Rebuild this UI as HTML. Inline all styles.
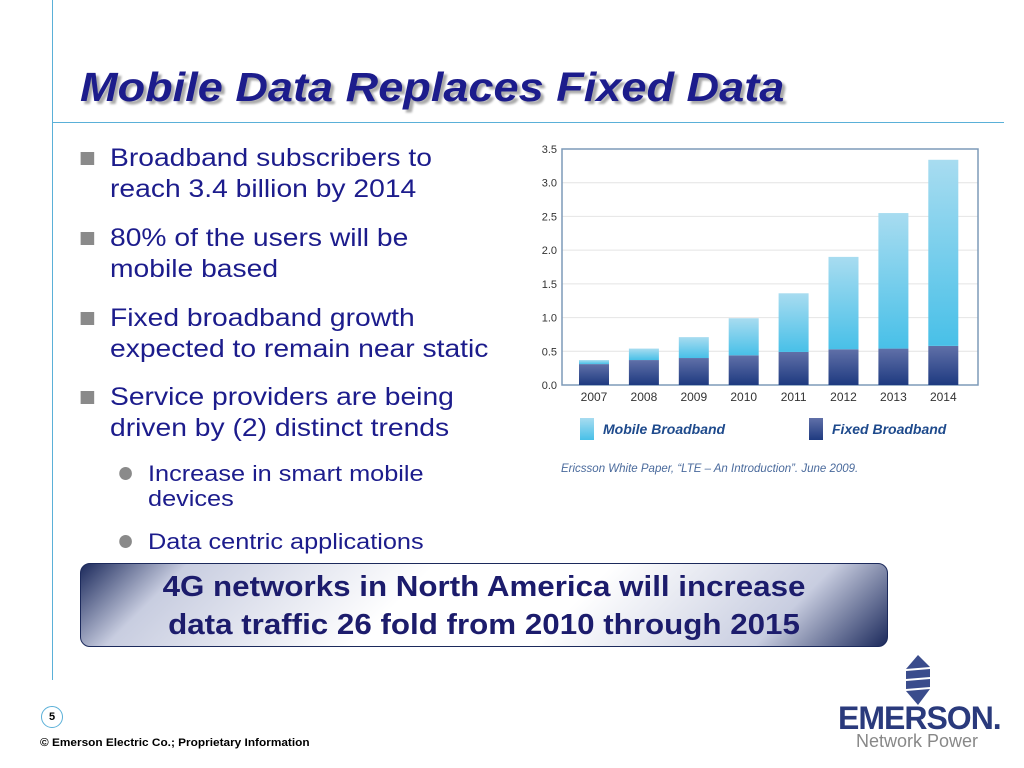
<!DOCTYPE html>
<html><head><meta charset="utf-8"><style>
body{margin:0;width:1024px;height:768px;background:#fff;position:relative;overflow:hidden;font-family:"Liberation Sans",sans-serif}
.a{position:absolute}
.b{font-size:25px;color:#1c1c8c;line-height:31px;transform:scaleX(1.13);transform-origin:0 0;white-space:nowrap}
.sq{position:absolute;left:-26px;top:9px;width:12px;height:13px;background:#8a8a8a}
.s{font-size:22px;color:#1c1c8c;line-height:25px;transform:scaleX(1.15);transform-origin:0 0;white-space:nowrap}
.dot{position:absolute;left:-25px;top:6px;width:11px;height:13px;border-radius:50%;background:#8a8a8a}
</style></head><body>
<div class="a" style="left:52px;top:0;width:1px;height:680px;background:#5ab0d8"></div>
<div class="a" style="left:52px;top:122px;width:952px;height:1px;background:#5ab0d8"></div>
<div class="a" style="left:80px;top:64px;font-size:41px;font-weight:bold;font-style:italic;color:#1c1c8c;text-shadow:3px 3px 2px #aaa;transform:scaleX(1.1);transform-origin:0 0;white-space:nowrap">Mobile Data Replaces Fixed Data</div>
<div class="a b" style="left:110px;top:143px"><span class="sq"></span>Broadband subscribers to<br>reach 3.4 billion by 2014</div>
<div class="a b" style="left:110px;top:223px"><span class="sq"></span>80% of the users will be<br>mobile based</div>
<div class="a b" style="left:110px;top:303px"><span class="sq"></span>Fixed broadband growth<br>expected to remain near static</div>
<div class="a b" style="left:110px;top:382px"><span class="sq"></span>Service providers are being<br>driven by (2) distinct trends</div>
<div class="a s" style="left:148px;top:461px"><span class="dot"></span>Increase in smart mobile<br>devices</div>
<div class="a s" style="left:148px;top:529px"><span class="dot"></span>Data centric applications</div>
<div class="a" style="left:80px;top:563px;width:808px;height:84px;border:1px solid #1c2a5c;border-radius:10px;background:linear-gradient(135deg,#1c2a5c 0%,#c8cde0 12%,#fff 40%,#fff 60%,#c8cde0 85%,#1c2a5c 100%);box-sizing:border-box"></div>
<div class="a" style="left:80px;top:568px;width:808px;text-align:center;font-size:29px;font-weight:bold;color:#1c1c6c;line-height:38px;transform:scaleX(1.08);transform-origin:404px 0">4G networks in North America will increase<br>data traffic 26 fold from 2010 through 2015</div>
<div class="a" style="left:41px;top:706px;width:20px;height:20px;border:1px solid #5ab0d8;border-radius:50%;font-size:11px;font-weight:bold;text-align:center;line-height:20px">5</div>
<div class="a" style="left:40px;top:737px;font-size:11px;font-weight:bold;transform:scaleX(1.075);transform-origin:0 0;white-space:nowrap">© Emerson Electric Co.; Proprietary Information</div>
<svg class="a" style="left:900px;top:655px" width="36" height="50"><g fill="#3a4c8c"><polygon points="18,0 30,12 6,14"/><polygon points="6,16 30,14 30,22 6,24"/><polygon points="6,26 30,24 30,32 6,34"/><polygon points="6,36 30,34 18,50"/></g></svg>
<div class="a" style="left:838px;top:700px;font-size:32px;font-weight:bold;color:#2a3a7c;letter-spacing:-1px">EMERSON.</div>
<div class="a" style="left:856px;top:731px;font-size:18px;color:#888">Network Power</div>
<svg id="chart" class="a" style="left:520px;top:135px" width="480" height="345"></svg>
<script>
const years=["2007","2008","2009","2010","2011","2012","2013","2014"];
const fixed=[0.31,0.37,0.40,0.44,0.49,0.53,0.54,0.58];
const mobile=[0.06,0.17,0.31,0.55,0.87,1.37,2.01,2.76];
const ticks=[0,0.5,1,1.5,2,2.5,3,3.5];
const NS="http://www.w3.org/2000/svg";
const svg=document.getElementById('chart');
const X0=42,X1=458,Y0=250,Y1=14;
const y=v=>Y0-(v/3.5)*(Y0-Y1);
const xc=i=>X0+32+i*49.9;
function el(t,a){const e=document.createElementNS(NS,t);for(const k in a)e.setAttribute(k,a[k]);svg.appendChild(e);return e;}
const defs=el('defs',{});
defs.innerHTML='<linearGradient id="gm" x1="0" y1="0" x2="0" y2="1"><stop offset="0" stop-color="#a8dcf0"/><stop offset="1" stop-color="#48c0e8"/></linearGradient><linearGradient id="gf" x1="0" y1="0" x2="0" y2="1"><stop offset="0" stop-color="#6070a8"/><stop offset="1" stop-color="#1e3a80"/></linearGradient>';
ticks.forEach(t=>{
 const g=el('line',{x1:X0,x2:X1,y1:y(t),y2:y(t),stroke:'#e4e4e4'});
 
 
 const l=el('text',{x:X0-5,y:y(t)+4,'text-anchor':'end','font-size':11,fill:'#333','font-family':'Liberation Sans'});
 l.textContent=t.toFixed(1);
 
 
});
const fr=el('rect',{x:X0,y:Y1,width:X1-X0,height:Y0-Y1,fill:'none',stroke:'#7d9ab8','stroke-width':1.5});


years.forEach((yr,i)=>{
 const w=30,x=xc(i)-w/2;
 const f=el('rect',{x:x,y:y(fixed[i]),width:w,height:Y0-y(fixed[i]),fill:'url(#gf)'});
 
 
 const m=el('rect',{x:x,y:y(fixed[i]+mobile[i]),width:w,height:y(fixed[i])-y(fixed[i]+mobile[i]),fill:'url(#gm)'});
 
 
 const t=el('text',{x:xc(i),y:Y0+16,'text-anchor':'middle','font-size':12,fill:'#333','font-family':'Liberation Sans'});
 t.textContent=yr;
 
 
});
const lm=el('rect',{x:60,y:283,width:14,height:22,fill:'url(#gm)'});


const lmt=el('text',{x:83,y:299,'font-size':14,'font-weight':'bold','font-style':'italic',fill:'#1e4a8c','font-family':'Liberation Sans'});
lmt.textContent='Mobile Broadband';


const lf=el('rect',{x:289,y:283,width:14,height:22,fill:'url(#gf)'});


const lft=el('text',{x:312,y:299,'font-size':14,'font-weight':'bold','font-style':'italic',fill:'#1e4a8c','font-family':'Liberation Sans'});
lft.textContent='Fixed Broadband';


const src=el('text',{x:41,y:337,'font-size':11.5,'font-style':'italic',fill:'#4a6a9c','font-family':'Liberation Sans'});
src.textContent='Ericsson White Paper, \u201cLTE \u2013 An Introduction\u201d.  June 2009.';


</script>
</body></html>
